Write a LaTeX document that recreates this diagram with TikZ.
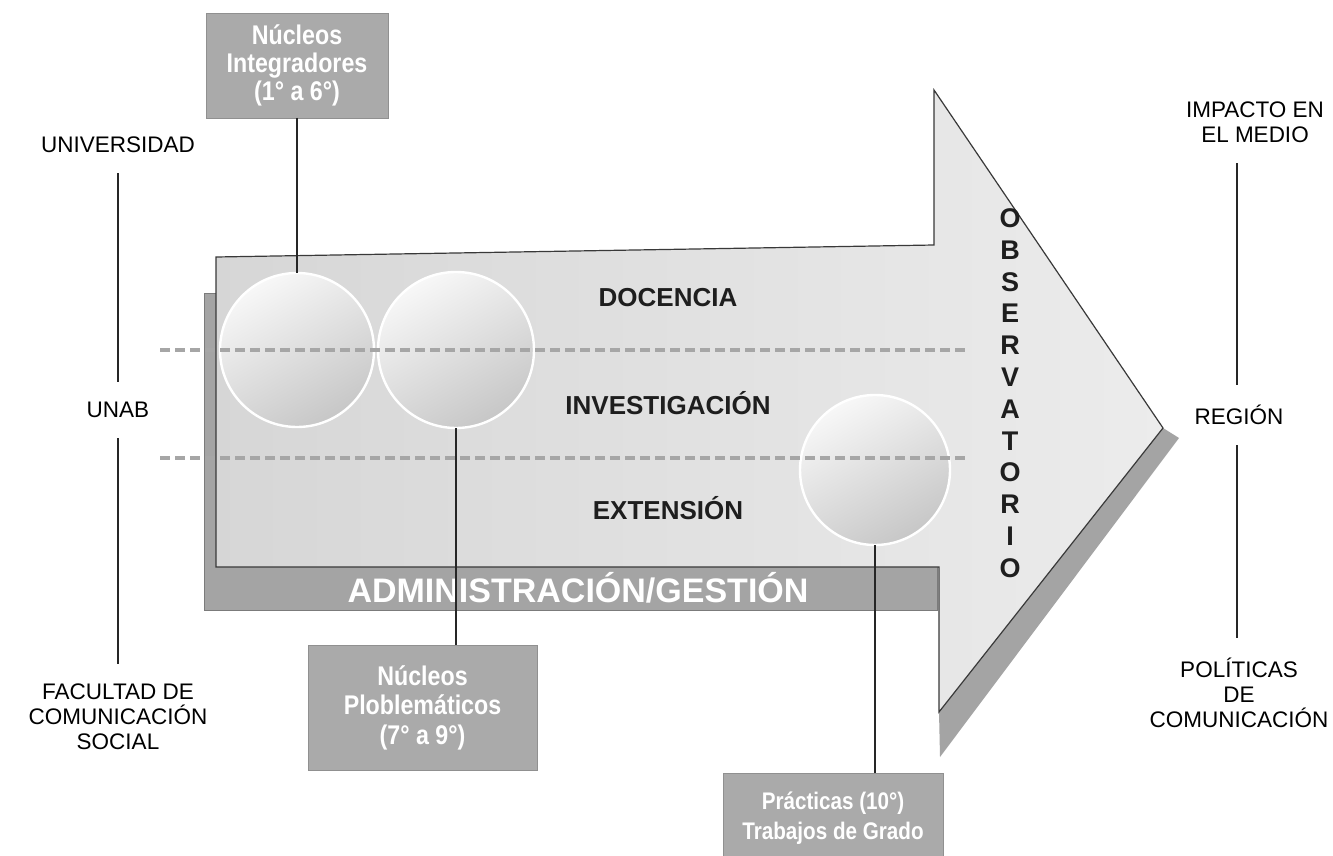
\documentclass[tikz,border=0pt]{standalone}
\usepackage{fontspec}
\setmainfont{Liberation Sans}
\usepackage{graphicx}
\definecolor{slab}{RGB}{164,164,164}
\definecolor{tilegray}{RGB}{170,170,170}
\definecolor{inkdark}{RGB}{30,30,30}
\newcommand{\narrowtext}[1]{\scalebox{0.86}[1]{#1}}
\begin{document}
\begin{tikzpicture}[x=0.5pt,y=-0.5pt,
  label/.style={font=\fontsize{11.25}{12.5}\selectfont, text=black, align=center, inner sep=0pt},
  area/.style={font=\bfseries\fontsize{13}{15}\selectfont, text=inkdark, inner sep=0pt},
  tile/.style={fill=tilegray, draw=tilegray!85!black, line width=0.3pt, text=white, align=center,
    font=\bfseries\fontsize{12}{15}\selectfont, inner sep=0pt, outer sep=0pt},
  orb/.style={circle, inner sep=0pt, outer sep=0pt, draw=white, line width=1.2pt,
    top color=gray!6, bottom color=gray!44, shading angle=30},
  dashline/.style={draw=gray!70, line width=2.4pt, dash pattern=on 5pt off 2.5pt},
  link/.style={draw=black!85, line width=1pt},
  stem/.style={draw=black!85, line width=1pt, shorten <=10pt, shorten >=10pt}]
\useasboundingbox (0,0) rectangle (1333,856);
\fill[white] (0,0) rectangle (1333,856);

% darker slab behind the body, showing as the left strip and the bottom bar
\path[fill=slab, draw=slab!75!black, line width=0.3pt] (204,293) rectangle (937,610);
% shadow band under the lower edge of the arrow head
\path[fill=slab] (1163,428) -- (1179,438) -- (940,757) -- (939,712) -- cycle;
% the big arrow
\path[draw=gray!45!black, line width=0.6pt, left color=gray!32, right color=gray!15]
  (216,257) -- (934,245) -- (934,90) -- (1163,428) -- (939,712) -- (939,567) -- (216,567) -- cycle;

% bar label
\node[font=\bfseries\fontsize{17}{20}\selectfont, text=white, inner sep=0pt] (admin) at (578,588) {ADMINISTRACIÓN/GESTIÓN};

% circles
\node[orb, minimum size=77pt] (c1) at (297,350) {};
\node[orb, minimum size=78pt] (c2) at (456,350) {};
\node[orb, minimum size=75pt] (c3) at (875,470) {};

% dashed bands
\coordinate (dA0) at (160,350); \coordinate (dA1) at (968,350);
\coordinate (dB0) at (160,458); \coordinate (dB1) at (968,458);
\draw[dashline] (dA0) -- (dA1);
\draw[dashline] (dB0) -- (dB1);

% functions
\node[area] (doc) at (668,298) {DOCENCIA};
\node[area] (inv) at (668,403) {INVESTIGACIÓN};
\node[area] (ext) at (668,508) {EXTENSIÓN};

% observatory, one letter per line
\node[font=\bfseries\fontsize{13.5}{15.9}\selectfont, text=inkdark, align=center, inner sep=0pt] (obs) at (1010,393)
  {O\\B\\S\\E\\R\\V\\A\\T\\O\\R\\I\\O};

% grey tiles
\node[tile, font=\bfseries\fontsize{13.5}{14}\selectfont, minimum width=91pt, minimum height=52.5pt] (ni) at (297,65.5)
  {\narrowtext{Núcleos}\\\narrowtext{Integradores}\\\narrowtext{(1° a 6°)}};
\node[tile, font=\bfseries\fontsize{13.5}{14.8}\selectfont, minimum width=114.5pt, minimum height=62.5pt] (pb) at (422.5,707.5)
  {\narrowtext{Núcleos}\\\narrowtext{Ploblemáticos}\\\narrowtext{(7° a 9°)}};
\node[tile, minimum width=110pt, minimum height=45pt] (pr) at (833,818)
  {\narrowtext{Prácticas (10°)}\\\narrowtext{Trabajos de Grado}};

\draw[link] (ni.south) -- (c1.north);
\draw[link] (c2.south) -- (c2.south |- pb.north);
\draw[link] (c3.south) -- (c3.south |- pr.north);

% left column
\node[label] (univ) at (118,145) {UNIVERSIDAD};
\node[label] (unab) at (118,410) {UNAB};
\node[label] (fac) at (118,717) {FACULTAD DE\\COMUNICACIÓN\\SOCIAL};
\draw[stem] (univ.south) -- (unab.north);
\draw[stem] (unab.south) -- (fac.north);

% right column
\node[label] (imp) at (1255,122) {IMPACTO EN\\EL MEDIO};
\node[label] (reg) at (1239,415) {REGIÓN};
\node[label] (pol) at (1239,693) {POLÍTICAS\\DE\\COMUNICACIÓN};
\draw[stem] (reg.north -| 1237,0) -- (imp.south -| 1237,0);
\draw[stem] (reg.south -| 1237,0) -- (pol.north -| 1237,0);
\end{tikzpicture}
\end{document}
